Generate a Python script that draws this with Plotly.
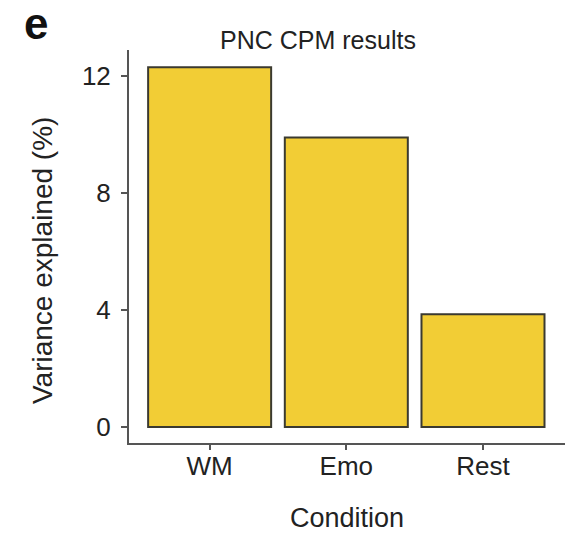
import plotly.graph_objects as go

# Variance explained by CPM for each fMRI condition (PNC sample)
conditions = ["WM", "Emo", "Rest"]
variance_explained = [12.3, 9.9, 3.85]
y_ticks = [0, 4, 8, 12]

fig = go.Figure(
    go.Bar(
        x=conditions,
        y=variance_explained,
        width=0.9,
        marker=dict(color="#F2CD35", line=dict(color="#3b3a30", width=2)),
    )
)

font_family = "Liberation Sans, Arial, sans-serif"

# plot area in pixels: x 129..565, y 50..443
L, R, T, B = 129, 4, 50, 90
W, H = 569, 533
pw, ph = W - L - R, H - T - B


def px_to_paper(x, y):
    """Convert a page pixel position to paper coordinates of the plot area."""
    return (x - L) / pw, (H - B - y) / ph


fig.update_layout(
    width=W,
    height=H,
    margin=dict(l=L, r=R, t=T, b=B),
    paper_bgcolor="white",
    plot_bgcolor="white",
    showlegend=False,
    font=dict(family=font_family, color="#222222"),
    title=dict(
        text="PNC CPM results",
        x=318 / W,
        xanchor="center",
        y=1 - 40 / H,
        yanchor="middle",
        font=dict(size=25, family=font_family, color="#222222"),
    ),
)

fig.update_xaxes(
    range=[-0.59, 2.6],
    showline=True,
    linecolor="#555555",
    linewidth=2,
    ticks="outside",
    ticklen=5,
    tickwidth=1.5,
    tickcolor="#555555",
    showgrid=False,
    zeroline=False,
    tickfont=dict(size=26),
    ticklabelstandoff=-6,
    title=dict(text="Condition", font=dict(size=27), standoff=30),
)

fig.update_yaxes(
    range=[-0.55, 12.89],
    tickvals=y_ticks,
    showline=True,
    linecolor="#555555",
    linewidth=2,
    ticks="outside",
    ticklen=6,
    tickwidth=1.5,
    tickcolor="#555555",
    showgrid=False,
    zeroline=False,
    tickfont=dict(size=26),
    ticklabelstandoff=5,
)

# Y-axis title
tx, ty = px_to_paper(42, 261)
fig.add_annotation(
    text="Variance explained (%)",
    x=tx,
    y=ty,
    xref="paper",
    yref="paper",
    xanchor="center",
    yanchor="middle",
    textangle=-90,
    showarrow=False,
    font=dict(size=28, family=font_family, color="#222222"),
)

# Panel letter
ex, ey = px_to_paper(22, 23)
fig.add_annotation(
    text="<b>e</b>",
    x=ex,
    y=ey,
    xref="paper",
    yref="paper",
    xanchor="left",
    yanchor="middle",
    showarrow=False,
    font=dict(size=44, family=font_family, color="#111111"),
)

fig.write_html("out.html")
